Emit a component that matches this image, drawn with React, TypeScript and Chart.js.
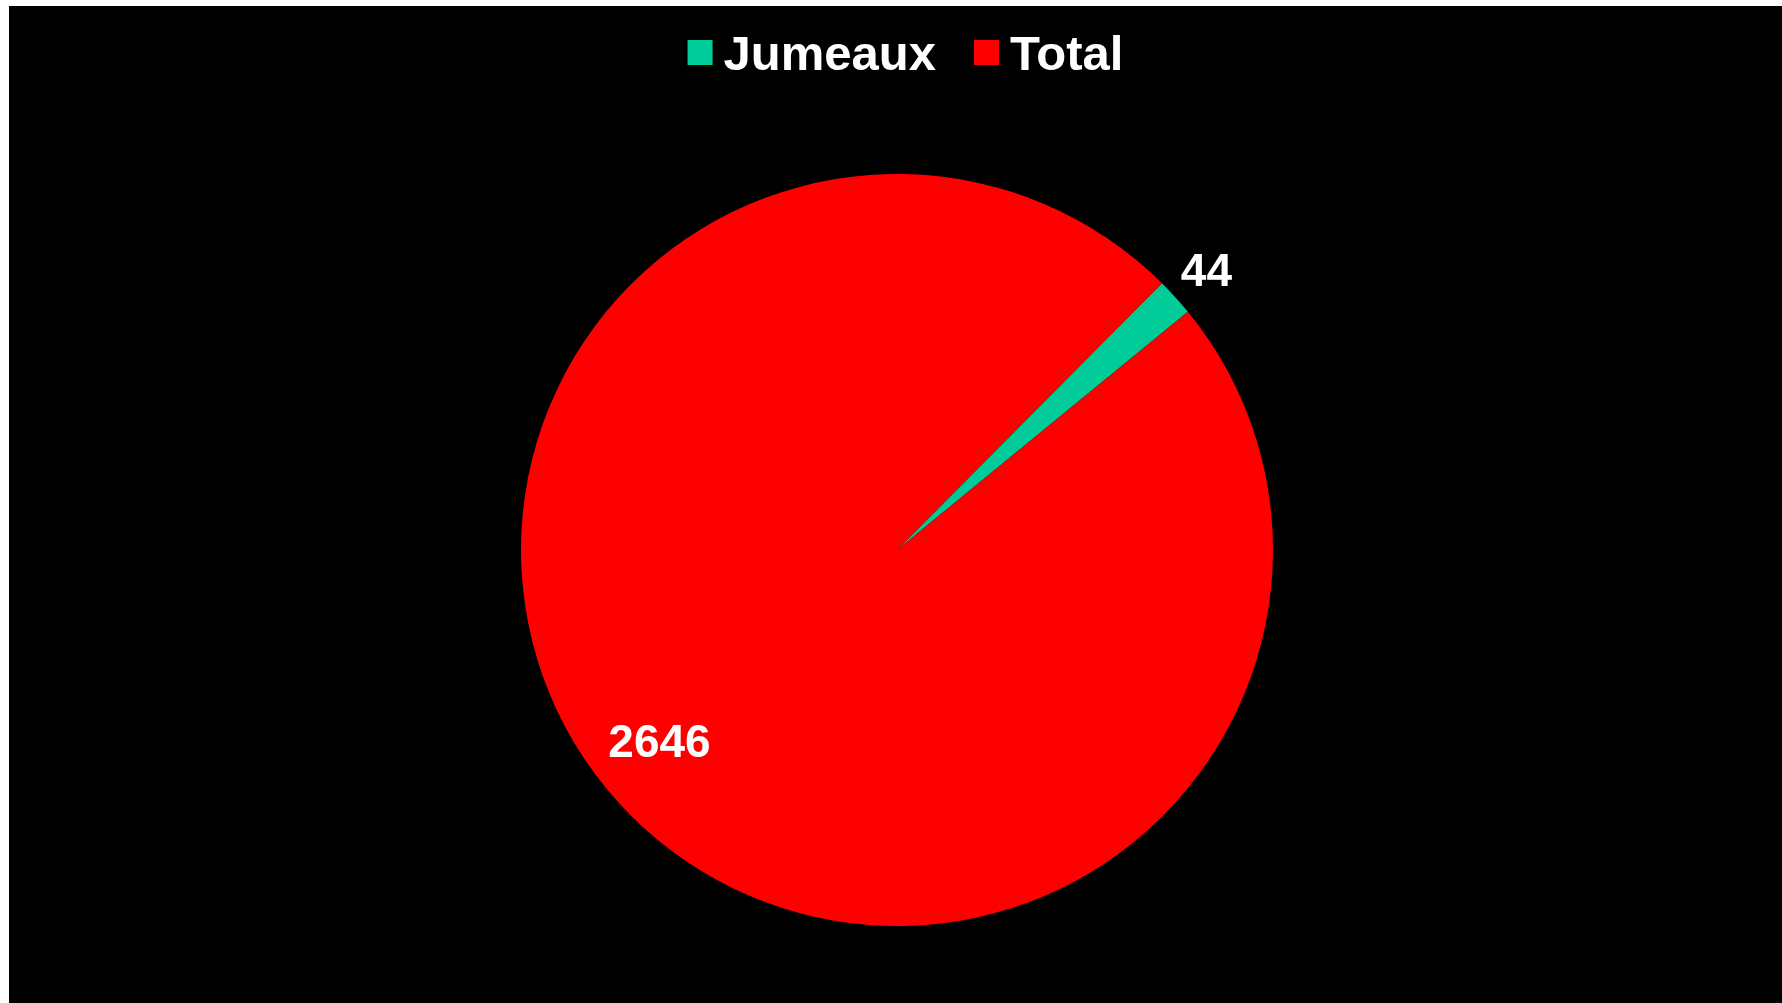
import React, { useEffect, useRef } from "react";
import { Chart, registerables } from "chart.js";

Chart.register(...registerables);

const categories = ["Jumeaux", "Total"];
const values = [44, 2646];
const colors = ["#00CC99", "#FF0000"];

const FONT = '"Liberation Sans", Arial, sans-serif';

const bgPlugin = {
  id: "bgBlack",
  beforeDraw(chart: any) {
    const ctx = chart.ctx;
    ctx.save();
    ctx.fillStyle = "#000000";
    ctx.fillRect(0, 0, chart.width, chart.height);
    ctx.restore();
  },
};

const legendPlugin = {
  id: "customLegend",
  afterDraw(chart: any) {
    const ctx = chart.ctx;
    ctx.save();
    ctx.font = `bold 49px ${FONT}`;
    const box = 25;
    const gap = 11;
    const itemGap = 38;
    const widths = categories.map((c) => ctx.measureText(c).width);
    const total = widths.reduce((a, w) => a + box + gap + w, 0) + itemGap * (categories.length - 1);
    let x = chart.width / 2 + 10 - total / 2;
    const boxTop = 34;
    const baseline = 64;
    categories.forEach((c, i) => {
      ctx.fillStyle = colors[i];
      ctx.fillRect(x, boxTop, box, box);
      x += box + gap;
      ctx.fillStyle = "#FFFFFF";
      ctx.textBaseline = "alphabetic";
      ctx.textAlign = "left";
      ctx.fillText(c, x, baseline);
      x += widths[i] + itemGap;
    });
    ctx.restore();
  },
};

const labelPlugin = {
  id: "sliceLabels",
  afterDatasetsDraw(chart: any) {
    const ctx = chart.ctx;
    const meta = chart.getDatasetMeta(0);
    const sum = values.reduce((a, b) => a + b, 0);
    ctx.save();
    ctx.font = `bold 46px ${FONT}`;
    ctx.fillStyle = "#FFFFFF";
    ctx.textAlign = "center";
    ctx.textBaseline = "middle";
    meta.data.forEach((arc: any, i: number) => {
      const { x, y, startAngle, endAngle, outerRadius } = arc.getProps(
        ["x", "y", "startAngle", "endAngle", "outerRadius"],
        true
      );
      const small = values[i] / sum < 0.1;
      const mid = (startAngle + endAngle) / 2 + (small ? 0 : (3.5 * Math.PI) / 180);
      const r = small ? outerRadius + 42 : outerRadius * 0.81;
      ctx.fillText(String(values[i]), x + Math.cos(mid) * r, y + Math.sin(mid) * r + 4);
    });
    ctx.restore();
  },
};

export default function App() {
  const ref = useRef<HTMLCanvasElement | null>(null);
  useEffect(() => {
    if (!ref.current) return;
    const chart = new Chart(ref.current, {
      type: "pie",
      data: {
        labels: categories,
        datasets: [
          {
            data: values,
            backgroundColor: colors,
            borderWidth: 0,
          },
        ],
      },
      options: {
        responsive: false,
        animation: false,
        rotation: 44.8,
        layout: { padding: { top: 168, bottom: 77, left: 100, right: 97 } },
        plugins: {
          legend: { display: false },
          tooltip: { enabled: false },
        },
      },
      plugins: [bgPlugin, labelPlugin, legendPlugin],
    });
    return () => chart.destroy();
  }, []);
  return (
    <div style={{ position: "fixed", left: 9, top: 6, width: 1773, height: 997 }}>
      <canvas ref={ref} width={1773} height={997} style={{ display: "block", width: 1773, height: 997 }} />
    </div>
  );
}
